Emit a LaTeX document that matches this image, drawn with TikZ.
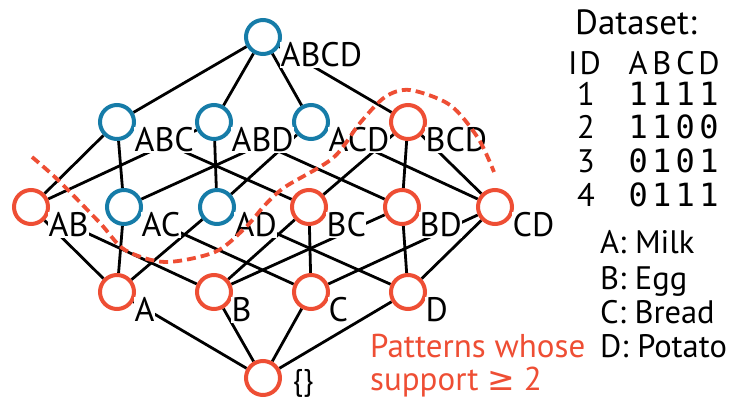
\documentclass[tikz,border=0pt]{standalone}
\usepackage{fontspec}
\setmainfont{PT Sans}
\newfontfamily\bitfont{DejaVu Sans Mono}
\newfontfamily\geqfont{DejaVu Sans}
\usepackage{tikz}
\usetikzlibrary{backgrounds}
\definecolor{suppred}{RGB}{238,78,52}
\definecolor{lowblue}{RGB}{22,124,168}
% four equally spaced table columns
\newcommand{\bitrow}[4]{\makebox[23.6pt]{#1}\makebox[23.6pt]{#2}\makebox[23.6pt]{#3}\makebox[23.6pt]{#4}}

\begin{document}
\begin{tikzpicture}[x=1pt, y=-1pt,
  set/.style={circle, draw, line width=4pt, minimum size=34pt, inner sep=0pt, fill=white},
  freq/.style={set, draw=suppred},
  rare/.style={set, draw=lowblue},
  lbl/.style={anchor=north west, xshift=17pt, yshift=-5pt, fill=white, inner sep=0.5pt, font=\fontsize{34}{40}\selectfont},
  edge/.style={line width=2.8pt},
  txt/.style={anchor=base west, inner sep=0pt, font=\fontsize{32.5}{38}\selectfont}]
\useasboundingbox (0,0) rectangle (731,398);

% itemset lattice
\node[rare] (abcd) at (263,37) {};
\node[rare] (abc) at (117,122) {};
\node[rare] (abd) at (214,122) {};
\node[rare] (acd) at (311,122) {};
\node[freq] (bcd) at (408,122) {};
\node[freq] (ab) at (31,207) {};
\node[rare] (ac) at (124,207) {};
\node[rare] (ad) at (217,207) {};
\node[freq] (bc) at (309,207) {};
\node[freq] (bd) at (402,207) {};
\node[freq] (cd) at (495,207) {};
\node[freq] (a) at (117,292) {};
\node[freq] (b) at (214,292) {};
\node[freq] (c) at (311,292) {};
\node[freq] (d) at (408,292) {};
\node[freq] (empty) at (263,378) {};

\node[lbl] at (abcd) {ABCD};
\node[lbl] at (abc) {ABC};
\node[lbl] at (abd) {ABD};
\node[lbl] at (acd) {ACD};
\node[lbl] at (bcd) {BCD};
\node[lbl] at (ab) {AB};
\node[lbl] at (ac) {AC};
\node[lbl] at (ad) {AD};
\node[lbl] at (bc) {BC};
\node[lbl] at (bd) {BD};
\node[lbl] at (cd) {CD};
\node[lbl] at (a) {A};
\node[lbl] at (b) {B};
\node[lbl] at (c) {C};
\node[lbl] at (d) {D};
\node[lbl, anchor=west, yshift=0pt, xshift=12pt, fill=none, font=\fontsize{30}{36}\selectfont] at (empty) {\{\}};

\begin{scope}[on background layer]
\draw[edge] (abcd) -- (abc) (abcd) -- (abd) (abcd) -- (acd) (abcd) -- (bcd);
\draw[edge] (abc) -- (ab) (abc) -- (ac) (abc) -- (bc);
\draw[edge] (abd) -- (ab) (abd) -- (ad) (abd) -- (bd);
\draw[edge] (acd) -- (ac) (acd) -- (ad) (acd) -- (cd);
\draw[edge] (bcd) -- (bc) (bcd) -- (bd) (bcd) -- (cd);
\draw[edge] (ab) -- (a) (ab) -- (b) (ac) -- (a) (ac) -- (c);
\draw[edge] (ad) -- (a) (ad) -- (d) (bc) -- (b) (bc) -- (c);
\draw[edge] (bd) -- (b) (bd) -- (d) (cd) -- (c) (cd) -- (d);
\draw[edge] (a) -- (empty) (b) -- (empty) (c) -- (empty) (d) -- (empty);
\end{scope}

% support border
\draw[suppred, line width=3.8pt, dash pattern=on 9pt off 5pt]
  plot[smooth] coordinates {(32,157) (58,180) (100,223) (125,250) (165,262) (215,252) (245,228) (265,205) (285,187) (333,158) (360,123) (385,97) (410,90) (450,105) (478,138) (494,172)};

% dataset
\node[txt, font=\fontsize{35}{40}\selectfont] (title) at (575,35) {Dataset:};
\node[txt] (head) at (568,75) {I\kern2ptD};
\node[txt] (cols) at (626.2,75) {\bitrow ABCD};
\node[txt, anchor=base] (id1) at (586,106) {1};
\node[txt, anchor=base] (id2) at (586,139) {2};
\node[txt, anchor=base] (id3) at (586,173) {3};
\node[txt, anchor=base] (id4) at (586,207) {4};
\node[txt, font=\bitfont\fontsize{32}{38}\selectfont] (row1) at (626.2,106) {\bitrow 1111};
\node[txt, font=\bitfont\fontsize{32}{38}\selectfont] (row2) at (626.2,139) {\bitrow 1100};
\node[txt, font=\bitfont\fontsize{32}{38}\selectfont] (row3) at (626.2,173) {\bitrow 0101};
\node[txt, font=\bitfont\fontsize{32}{38}\selectfont] (row4) at (626.2,207) {\bitrow 0111};

% item names
\node[txt] (milk) at (600,254) {A: Milk};
\node[txt] (egg) at (600,289) {B: Egg};
\node[txt] (bread) at (600,323) {C: Bread};
\node[txt] (potato) at (600,357) {D: Potato};

\node[txt, text=suppred, font=\fontsize{33}{38}\selectfont] (note1) at (370,357) {Patterns whose};
\node[txt, text=suppred, font=\fontsize{33}{38}\selectfont] (note2) at (370,390) {support {\geqfont ≥} 2};
\end{tikzpicture}
\end{document}
